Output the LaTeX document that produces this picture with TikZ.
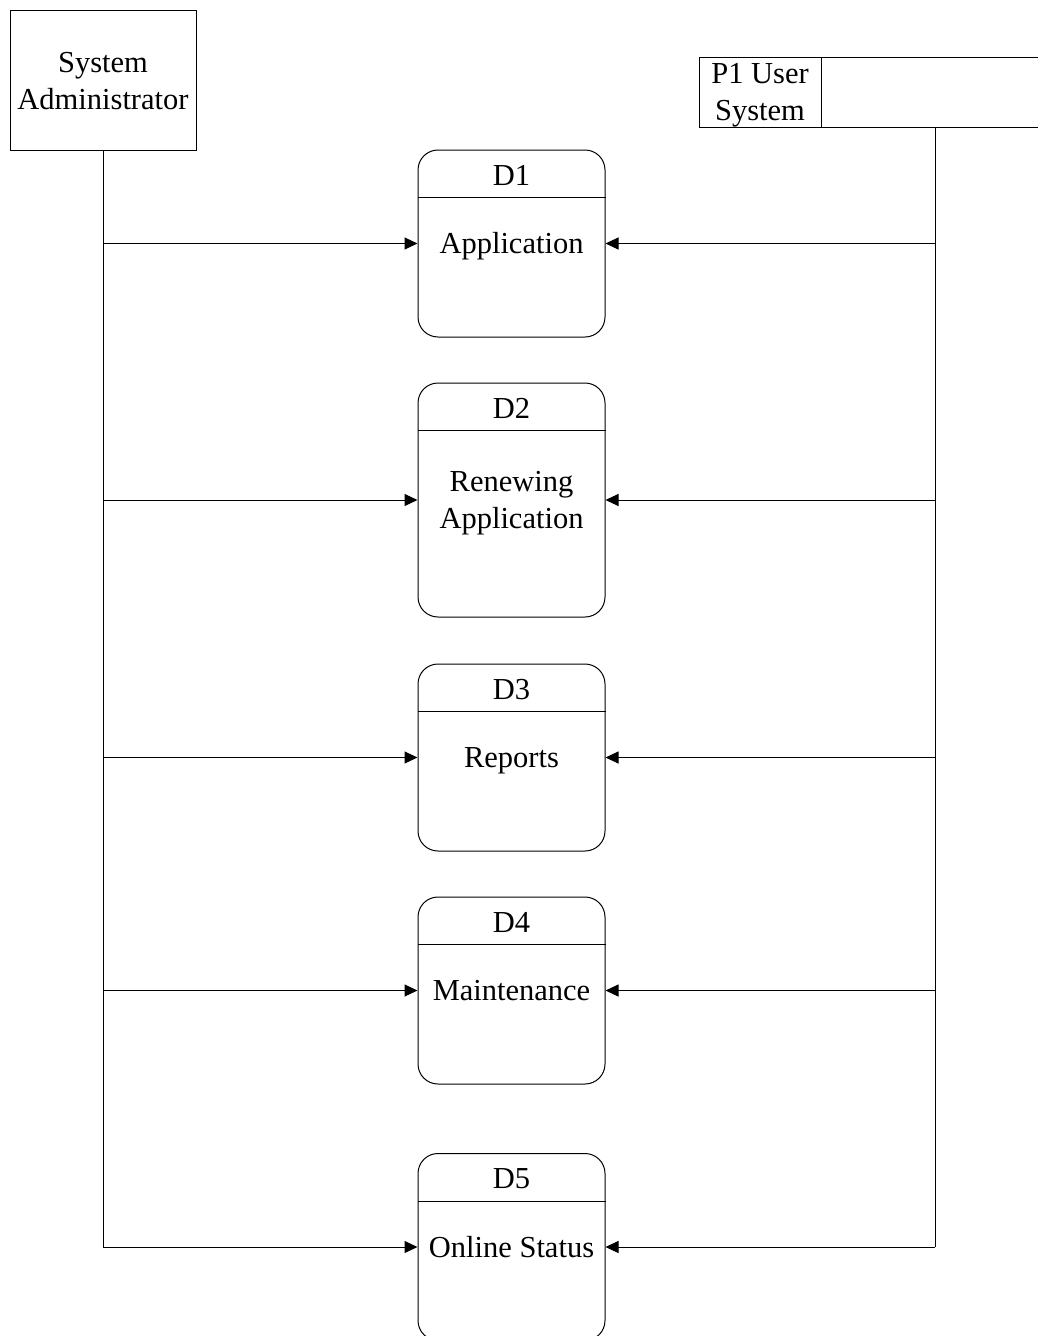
\documentclass[tikz,border=0pt]{standalone}
\usepackage{fontspec}
\setmainfont{Liberation Serif}
\usetikzlibrary{arrows.meta}
\begin{document}
\begin{tikzpicture}[x=1pt,y=-1pt,
  font=\fontsize{30.5}{37}\selectfont,
  ext/.style={draw, line width=1pt, inner sep=0pt},
  txt/.style={inner sep=0pt, align=center},
  proc/.style={draw, line width=1pt, rounded corners=20pt, inner sep=0pt, minimum width=187pt},
  flow/.style={-{Triangle[length=13pt,width=12pt]}, line width=1pt},
  plain/.style={line width=1pt}]
\useasboundingbox (0,0) rectangle (1037,1336);
% externals
\node[ext, minimum width=186pt, minimum height=140pt] (admin) at (103,80) {};
\node[txt] (admint) at ([yshift=-1.5pt]admin.center) {System\\Administrator};
\node[ext, minimum width=122pt, minimum height=70pt] (p1) at (760,92) {};
\node[txt] (p1t) at ([yshift=-3.5pt]p1.center) {P1 User\\System};
\node[ext, minimum width=228pt, minimum height=70pt] (p1r) at (935,92) {};
% processes
\node[proc, minimum height=187pt] (d1) at (511.5,243.5) {};
\node[proc, minimum height=234pt] (d2) at (511.5,500) {};
\node[proc, minimum height=187pt] (d3) at (511.5,757.5) {};
\node[proc, minimum height=187pt] (d4) at (511.5,990.5) {};
\node[proc, minimum height=187pt] (d5) at (511.5,1247) {};
\foreach \n/\t in {d1/D1,d2/D2,d3/D3,d4/D4,d5/D5}{
  \draw[plain] ([yshift=-48pt]\n.north west) -- ([yshift=-48pt]\n.north east);
  \node[txt] (\n h) at ([yshift=-26pt]\n.north) {\t};
}
\node[txt] (d1t) at ([yshift=-2.7pt]d1.center) {\strut Application};
\node[txt] (d2t) at ([yshift=-3pt]d2.center) {Renewing\\Application};
\node[txt] (d3t) at ([yshift=-2.7pt]d3.center) {\strut Reports};
\node[txt] (d4t) at ([yshift=-2.7pt]d4.center) {\strut Maintenance};
\node[txt] (d5t) at ([yshift=-2.7pt]d5.center) {\strut Online Status};
% connectors
\draw[plain] (admin.south) -- (admin.south |- d5.west);
\draw[plain] (p1r.south) -- (p1r.south |- d5.east);
\foreach \n in {d1,d2,d3,d4,d5}{
  \draw[flow] (admin.south |- \n.west) -- (\n.west);
  \draw[flow] (p1r.south |- \n.east) -- (\n.east);
}
\end{tikzpicture}
\end{document}
